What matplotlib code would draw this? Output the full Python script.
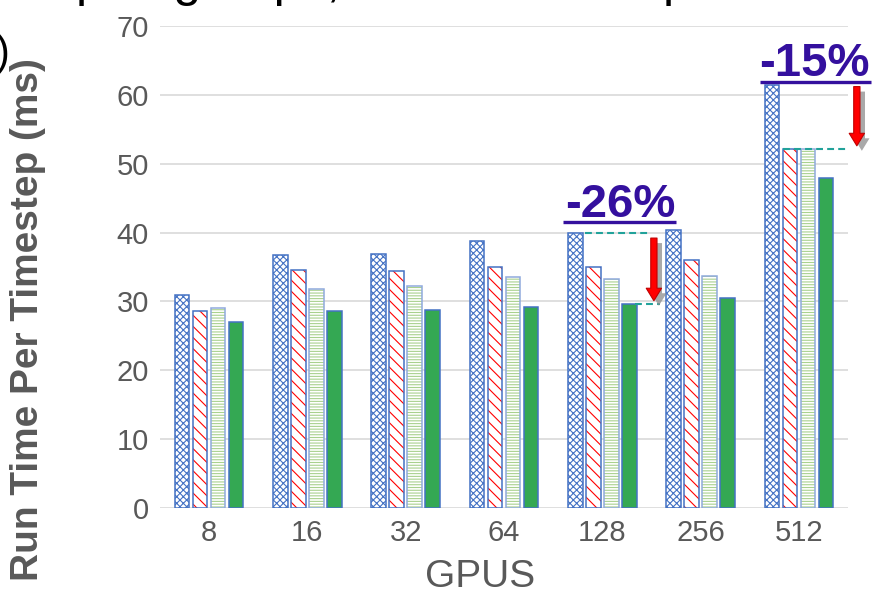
import matplotlib
matplotlib.use("Agg")
import matplotlib.pyplot as plt
from matplotlib.patches import FancyArrowPatch
from matplotlib import transforms
import numpy as np

# Run time per timestep (ms) for each GPU count
gpus = ["8", "16", "32", "64", "128", "256", "512"]
baseline = [31.0, 36.7, 36.9, 38.8, 40.0, 40.4, 61.5]
variant_a = [28.6, 34.6, 34.4, 35.0, 35.0, 36.0, 52.2]
variant_b = [29.0, 31.8, 32.2, 33.5, 33.2, 33.7, 52.2]
variant_c = [27.0, 28.6, 28.7, 29.2, 29.6, 30.5, 47.9]
yticks = [0, 10, 20, 30, 40, 50, 60, 70]

plt.rcParams["font.family"] = ["Liberation Sans", "DejaVu Sans"]
plt.rcParams["hatch.linewidth"] = 0.8

GRAY_TXT = "#595959"
PURPLE = "#34109E"
TEAL = "#21A29A"

fig = plt.figure(figsize=(8.72, 5.93), dpi=100)
ax = fig.add_axes([160 / 872, 1 - 508 / 593, 688 / 872, 482 / 593])

x = np.arange(len(gpus))
width = 0.148
pitch = 0.183
offsets = (np.arange(4) - 1.5) * pitch

series = [
    (baseline, "white", "#4472C4", "xxxxx", "#4472C4"),
    (variant_a, "white", "#FF0000", "\\\\\\", "#4472C4"),
    (variant_b, "white", "#A9D18E", "------", "#8FAADC"),
    (variant_c, "#34A853", None, None, "#4472C4"),
]
for (vals, face, hcol, hatch, edge), off in zip(series, offsets):
    if hatch:
        ax.bar(x + off, vals, width, color=face, edgecolor=hcol, hatch=hatch,
               linewidth=0, zorder=2)
    else:
        ax.bar(x + off, vals, width, color=face, linewidth=0, zorder=2)
    ax.bar(x + off, vals, width, fill=False, edgecolor=edge, linewidth=1.1, zorder=3)

ax.set_xlim(-0.5, 6.5)
ax.set_ylim(0, 70)
ax.set_yticks(yticks)
ax.set_xticks(x)
ax.set_xticklabels(gpus)
ax.tick_params(axis="both", length=0, labelsize=21, colors=GRAY_TXT)
ax.tick_params(axis="y", pad=8)
ax.tick_params(axis="x", pad=8)
for s in ax.spines.values():
    s.set_visible(False)
ax.grid(axis="y", color="#D9D9D9", linewidth=1.2)
ax.set_axisbelow(True)

ax.set_xlabel("GPUS", fontsize=28, color=GRAY_TXT)
ax.xaxis.set_label_coords((480 - 160) / 688, -0.105)
fig.text(10 / 872, 1 - 320 / 593, "Run Time Per Timestep (ms)", rotation=90,
         ha="left", va="center", fontsize=28, fontweight="bold", color=GRAY_TXT)

# caption fragments at the edges
fig.text(76 / 872, 1 + 4 / 593, "pair groups, with no overlap", fontsize=36,
         ha="left", va="baseline", color="black")
fig.text(-4 / 872, 1 - 54 / 593, ")", fontsize=30, ha="left", va="center", color="black")


def drop_arrow(xa, y0, y1):
    style = "simple,head_length=9,head_width=11,tail_width=4.5"
    shadow = FancyArrowPatch((xa, y0), (xa, y1), arrowstyle=style, mutation_scale=1,
                             shrinkA=0, shrinkB=0, color="#8C8C8C", alpha=0.75,
                             linewidth=0, clip_on=False, zorder=4,
                             transform=ax.transData + transforms.ScaledTranslation(
                                 5 / 100, -5 / 100, fig.dpi_scale_trans))
    ax.add_patch(shadow)
    arrow = FancyArrowPatch((xa, y0), (xa, y1), arrowstyle=style, mutation_scale=1,
                            shrinkA=0, shrinkB=0, facecolor="#FF0000",
                            edgecolor="#C00000", linewidth=0.8, clip_on=False, zorder=5)
    ax.add_patch(arrow)


def reduction(hi, lo):
    return round((lo / hi - 1) * 100)


# 128 GPUs: baseline vs fastest variant
i = 4
hi, lo = baseline[i], variant_c[i]
ax.text(4.18, 42.3, f"{reduction(hi, lo)}%", fontsize=34, fontweight="bold",
        color=PURPLE, ha="center", va="baseline", zorder=6)
ax.plot([3.60, 4.75], [41.5, 41.5], color=PURPLE, linewidth=2.4,
        solid_capstyle="butt", clip_on=False, zorder=6)
ax.plot([3.82, 4.48], [hi, hi], color=TEAL, linewidth=1.5, linestyle=(0, (3.3, 2)),
        zorder=4)
ax.plot([4.33, 4.59], [lo, lo], color=TEAL, linewidth=1.5, linestyle=(0, (3.3, 2)),
        zorder=4)
drop_arrow(4.525, hi - 0.8, lo + 0.5)

# 512 GPUs: baseline vs first variant
i = 6
hi, lo = baseline[i], variant_a[i]
ax.text(6.16, 62.7, f"{reduction(hi, lo)}%", fontsize=34, fontweight="bold",
        color=PURPLE, ha="center", va="baseline", zorder=6, clip_on=False)
ax.plot([5.60, 6.73], [61.8, 61.8], color=PURPLE, linewidth=2.4,
        solid_capstyle="butt", clip_on=False, zorder=6)
ax.plot([5.84, 6.49], [lo, lo], color=TEAL, linewidth=1.5, linestyle=(0, (3.3, 2)),
        zorder=4, clip_on=False)
drop_arrow(6.59, hi - 0.3, lo + 0.4)

fig.savefig("out.png", dpi=100)
